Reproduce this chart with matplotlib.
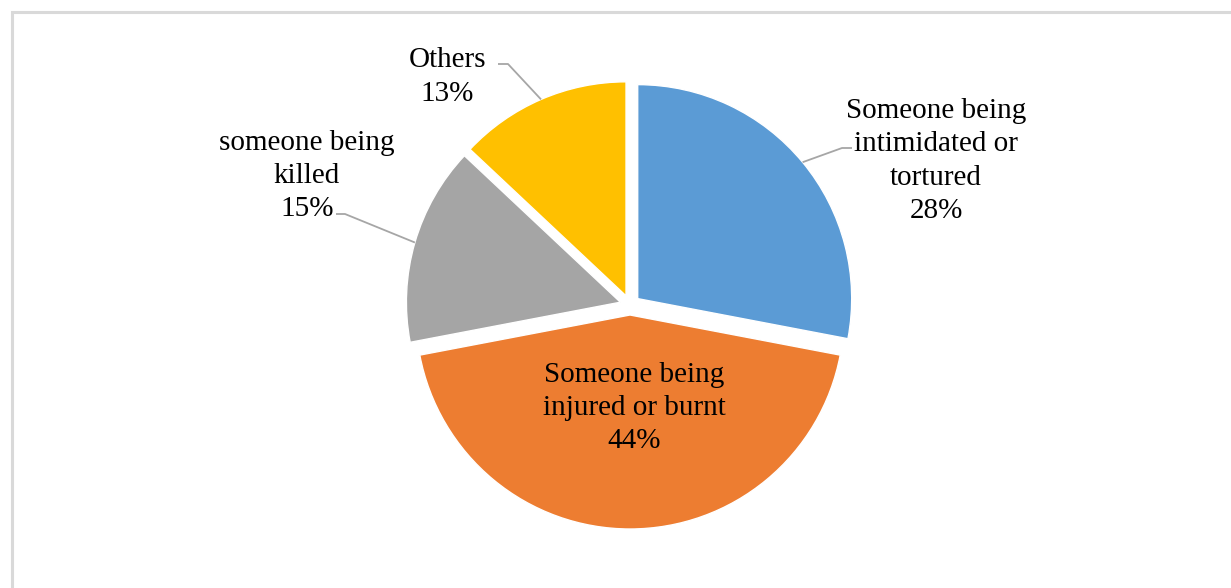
import numpy as np
import matplotlib.pyplot as plt
from matplotlib.patches import Rectangle

labels = ["Someone being\nintimidated or\ntortured",
          "Someone being\ninjured or burnt",
          "someone being\nkilled",
          "Others"]
shares = [28, 44, 15, 13]
colors = ["#5B9BD5", "#ED7D31", "#A5A5A5", "#FFC000"]

W, H = 1231, 588
plt.rcParams['font.family'] = ['Liberation Serif', 'DejaVu Serif']

fig = plt.figure(figsize=(W / 100, H / 100), dpi=100)
ax = fig.add_axes([0, 0, 1, 1])

cx, cy, r = 630, H - 305, 214
gap = 10  # explode offset, in pixels (pie() takes it in data units)
wedges, _ = ax.pie(shares, colors=colors, startangle=90, counterclock=False,
                   explode=[gap] * len(shares), radius=r, center=(cx, cy),
                   wedgeprops=dict(edgecolor='white', linewidth=1.0))

# pie() resets the limits, so pin them to pixel units afterwards
ax.set_xlim(0, W)
ax.set_ylim(0, H)
ax.set_aspect('equal')
ax.axis('off')

# label block centre (x, y from top) and leader elbow/end (x, y from top)
label_pos = [(936, 161), (634, 408), (307, 176), (447, 77)]
leaders = [((842, 148), (852, 148)), None,
           ((345, 214), (336, 214)), ((508, 64), (498, 64))]

for w, lab, s, (lx, ly), ld in zip(wedges, labels, shares, label_pos, leaders):
    ax.text(lx, H - ly, f"{lab}\n{s}%", ha='center', va='center',
            fontsize=21, linespacing=1.36, color='#000000')
    if ld is None:
        continue
    mid = np.deg2rad((w.theta1 + w.theta2) / 2)
    wx, wy = w.center
    ax_pt = (wx + w.r * np.cos(mid), wy + w.r * np.sin(mid))
    (ex, ey), (tx, ty) = ld
    ax.plot([ax_pt[0], ex, tx], [ax_pt[1], H - ey, H - ty],
            color='#A6A6A6', lw=1.3, solid_capstyle='butt')

# outer frame, running off the right and bottom edges
ax.add_patch(Rectangle((11.5, -20), W + 40, H - 11.5 + 20, fill=False,
                       edgecolor='#D9D9D9', lw=2.2, clip_on=False))

fig.savefig('out.png', dpi=100, facecolor='white')
